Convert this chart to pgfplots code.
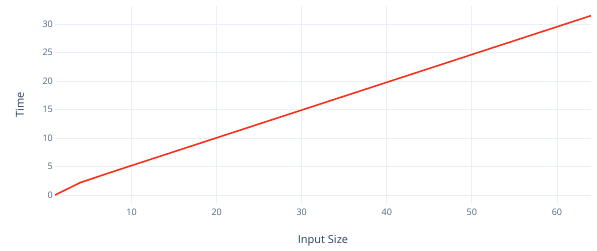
\documentclass[border=0pt]{standalone}
\usepackage{pgfplots}
\pgfplotsset{compat=1.18}
\usepackage{fontspec}
\setmainfont{Open Sans}
\definecolor{gridc}{HTML}{EBF0F8}
\definecolor{tickc}{HTML}{506784}
\definecolor{titlec}{HTML}{2A3F5F}
\definecolor{linec}{HTML}{F5321E}
\begin{document}
\begin{tikzpicture}
\path[use as bounding box] (-55pt,-48pt) rectangle (542pt,203pt);
\begin{axis}[
  at={(0pt,0pt)}, anchor=south west,
  scale only axis, width=536pt, height=197pt,
  xmin=1, xmax=64, ymin=-1.4, ymax=33.2,
  axis line style={draw=none},
  xtick={10,20,30,40,50,60},
  ytick={0,5,10,15,20,25,30},
  major tick length=0pt,
  grid=major,
  major grid style={gridc, line width=0.8pt},
  tick label style={font=\fontsize{9}{10}\selectfont, text=tickc},
  /pgf/number format/assume math mode=true,
  yticklabel style={anchor=east, inner sep=1pt, xshift=-1pt},
  xticklabel style={anchor=center, yshift=-9pt, inner sep=0pt},
  xlabel={Input Size}, ylabel={Time},
  label style={font=\fontsize{11}{12}\selectfont, text=titlec},
  xlabel style={at={(axis description cs:0.5,0)}, anchor=center, yshift=-38pt},
  ylabel style={at={(axis description cs:0,0.5)}, anchor=center, yshift=35pt},
]
\addplot[linec, line width=1.6pt] coordinates {
(1,0) (4,2.2) (8,4.2) (16,8.1) (32,15.9) (64,31.5)
};
\end{axis}
\end{tikzpicture}
\end{document}
